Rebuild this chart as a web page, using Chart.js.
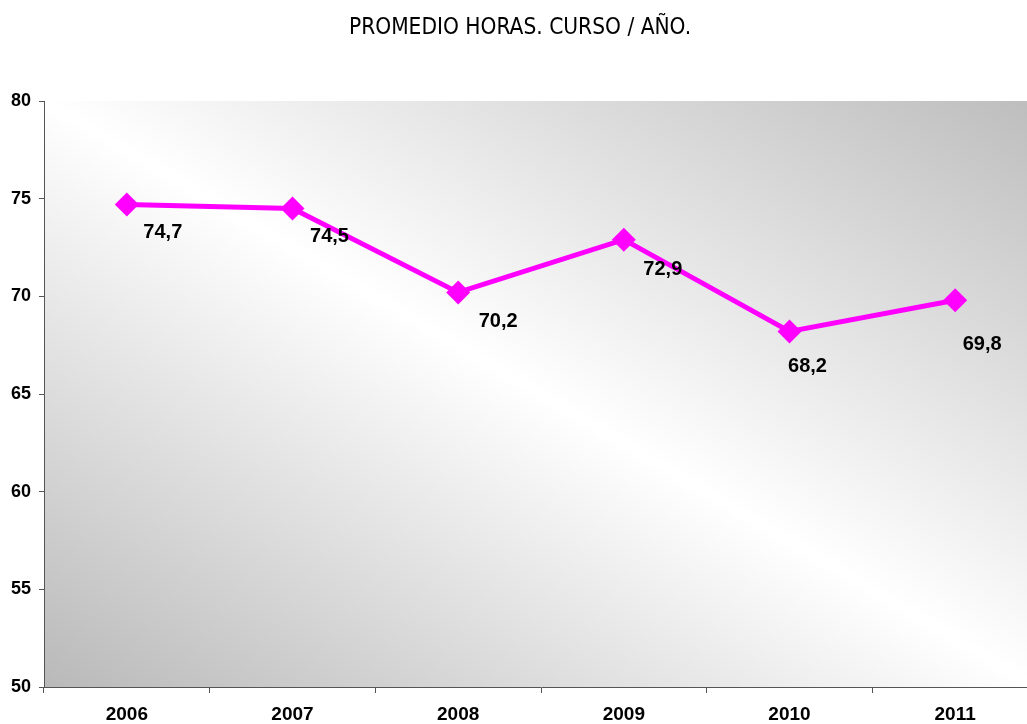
<!DOCTYPE html>
<html>
<head>
<meta charset="utf-8">
<title>Promedio horas curso / año</title>
<script src="https://cdn.jsdelivr.net/npm/chart.js@4.4.0/dist/chart.umd.min.js"></script>
<style>
  html, body { margin: 0; padding: 0; background: #ffffff; overflow: hidden; }
  #wrap { width: 1050px; height: 724px; }
</style>
</head>
<body>
<div id="wrap"><canvas id="lineChart" width="1050" height="724"></canvas></div>
<script>
// datos del grafico
var anios = ['2006', '2007', '2008', '2009', '2010', '2011'];
var promedioHoras = [74.7, 74.5, 70.2, 72.9, 68.2, 69.8];
var etiquetas = ['74,7', '74,5', '70,2', '72,9', '68,2', '69,8'];
var ejeY = [50, 55, 60, 65, 70, 75, 80];

// desplazamiento de cada etiqueta respecto a su punto (como en la hoja original)
var desplaz = [[36, 28], [37, 28], [40, 29], [39, 30], [18, 35], [27, 44]];

// fondo degradado del area de trazado (gris - blanco - gris en diagonal)
var fondoPlot = {
    id: 'fondoPlot',
    beforeDraw: function (chart) {
        var ctx = chart.ctx;
        var a = chart.chartArea;
        var cx = (a.left + a.right) / 2;
        var cy = (a.top + a.bottom) / 2;
        var w = a.right - a.left;
        var h = a.bottom - a.top;
        var len = Math.sqrt(w * w + h * h);
        var nx = h / len, ny = -w / len;
        var d = (w * h) / len;
        var g = ctx.createLinearGradient(cx - nx * d, cy - ny * d, cx + nx * d, cy + ny * d);
        g.addColorStop(0, '#b9b9b9');
        g.addColorStop(0.5, '#ffffff');
        g.addColorStop(1, '#bdbdbd');
        ctx.save();
        ctx.fillStyle = g;
        ctx.fillRect(a.left, a.top, w, h);
        ctx.restore();
    }
};

// etiquetas de datos
var etiquetasDatos = {
    id: 'etiquetasDatos',
    afterDatasetsDraw: function (chart) {
        var ctx = chart.ctx;
        var meta = chart.getDatasetMeta(0);
        ctx.save();
        ctx.font = 'bold 20px "Liberation Sans", Arial, sans-serif';
        ctx.fillStyle = '#000000';
        ctx.textAlign = 'center';
        ctx.textBaseline = 'middle';
        for (var i = 0; i < meta.data.length; i++) {
            var p = meta.data[i];
            ctx.fillText(etiquetas[i], p.x + desplaz[i][0], p.y + desplaz[i][1]);
        }
        ctx.restore();
    }
};

var lineChartCanvas = document.getElementById('lineChart').getContext('2d');
new Chart(lineChartCanvas, {
    type: 'line',
    data: {
        labels: anios,
        datasets: [
            {
                label: 'Promedio horas',
                data: promedioHoras,
                borderColor: '#ff00ff',
                backgroundColor: '#ff00ff',
                borderWidth: 5,
                pointStyle: 'rectRot',
                pointRadius: 12,
                pointHoverRadius: 12,
                pointBackgroundColor: '#ff00ff',
                pointBorderColor: '#ff00ff',
                pointBorderWidth: 0,
                tension: 0,
                fill: false
            }
        ]
    },
    options: {
        responsive: false,
        animation: false,
        maintainAspectRatio: false,
        layout: { padding: { left: 0, right: 10, top: 0, bottom: 0 } },
        plugins: {
            legend: { display: false },
            tooltip: { enabled: false },
            title: {
                display: true,
                text: 'PROMEDIO HORAS. CURSO / AÑO.',
                color: '#000000',
                font: { family: '"DejaVu Sans Condensed", "Liberation Sans Narrow", Arial, sans-serif', size: 22.5, weight: 'normal' },
                padding: { top: 15, bottom: 59 }
            }
        },
        scales: {
            x: {
                offset: true,
                afterFit: function (s) { s.height = 37; },
                grid: {
                    offset: true,
                    drawOnChartArea: false,
                    drawTicks: true,
                    tickLength: 6,
                    color: '#555555'
                },
                border: { display: true, color: '#555555', width: 1 },
                ticks: {
                    color: '#000000',
                    padding: 10,
                    font: { family: '"Liberation Sans", Arial, sans-serif', size: 19, weight: 'bold' }
                }
            },
            y: {
                min: ejeY[0],
                max: ejeY[ejeY.length - 1],
                afterFit: function (s) { s.width = 44; },
                afterBuildTicks: function (s) {
                    s.ticks = ejeY.map(function (v) { return { value: v }; });
                },
                grid: {
                    drawOnChartArea: false,
                    drawTicks: true,
                    tickLength: 5,
                    color: '#555555'
                },
                border: { display: true, color: '#555555', width: 1 },
                ticks: {
                    color: '#000000',
                    padding: 8,
                    font: { family: '"Liberation Sans", Arial, sans-serif', size: 18, weight: 'bold' }
                }
            }
        }
    },
    plugins: [fondoPlot, etiquetasDatos]
});
</script>
</body>
</html>
